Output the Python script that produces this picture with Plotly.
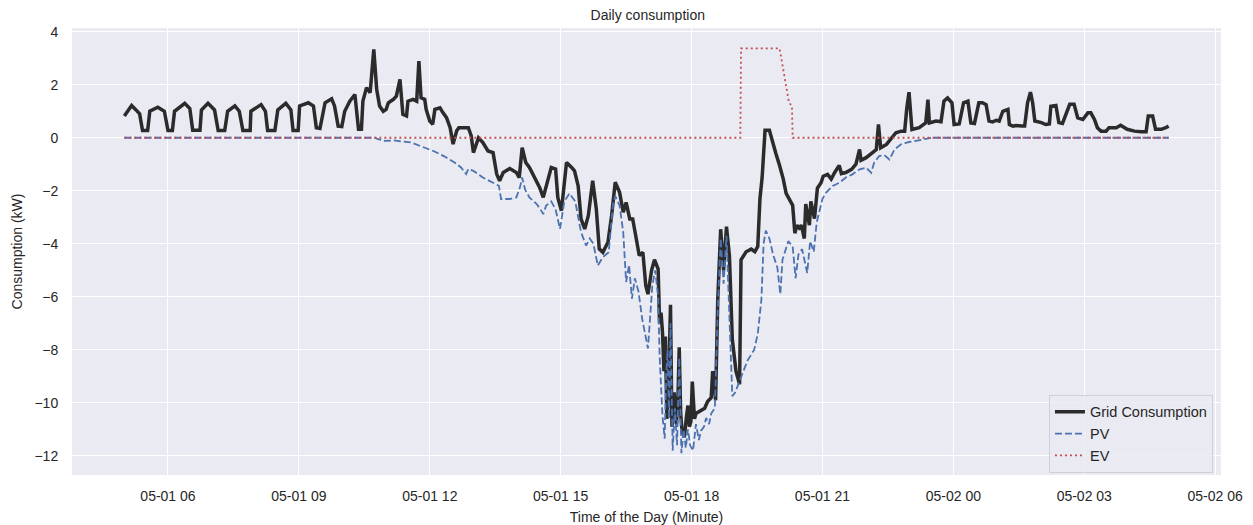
import pandas as pd
import plotly.graph_objects as go

# Grid consumption (kW) — sample times and values
grid_time = [
    "05:00", "05:10", "05:16", "05:21", "05:25", "05:32", "05:35", "05:46", "05:55", "06:00",
    "06:06", "06:09", "06:23", "06:30", "06:34", "06:44", "06:46", "06:55", "07:04", "07:09",
    "07:18", "07:22", "07:32", "07:38", "07:43", "07:53", "07:54", "08:08", "08:14", "08:17",
    "08:27", "08:31", "08:42", "08:49", "08:52", "08:59", "09:01", "09:13", "09:20", "09:24",
    "09:29", "09:36", "09:45", "09:49", "09:54", "09:59", "10:03", "10:10", "10:17", "10:22",
    "10:26", "10:28", "10:33", "10:38", "10:43", "10:47", "10:51", "10:56", "11:00", "11:03",
    "11:10", "11:14", "11:19", "11:21", "11:23", "11:28", "11:30", "11:37", "11:42", "11:45",
    "11:48", "11:53", "11:55", "12:00", "12:04", "12:07", "12:14", "12:18", "12:23", "12:28",
    "12:32", "12:37", "12:40", "12:46", "12:53", "12:57", "13:00", "13:07", "13:13", "13:20",
    "13:27", "13:32", "13:36", "13:41", "13:50", "13:59", "14:03", "14:07", "14:12", "14:17",
    "14:22", "14:27", "14:31", "14:36", "14:40", "14:47", "14:53", "14:56", "15:01", "15:08",
    "15:15", "15:19", "15:24", "15:28", "15:33", "15:38", "15:44", "15:49", "15:53", "15:58",
    "16:05", "16:10", "16:15", "16:21", "16:26", "16:30", "16:35", "16:39", "16:44", "16:48",
    "16:53", "16:57", "17:00", "17:05", "17:09",
    "17:14", "17:16", "17:18", "17:20", "17:22", "17:24", "17:26", "17:28", "17:30", "17:31",
    "17:33", "17:36", "17:39", "17:41", "17:43", "17:45", "17:47", "17:50", "17:53", "17:55",
    "17:57", "17:59", "18:01", "18:04", "18:06",
    "18:13", "18:18", "18:22", "18:27", "18:29", "18:33", "18:36", "18:40", "18:44", "18:48",
    "18:52", "18:56", "19:01", "19:06", "19:08", "19:15", "19:22", "19:27", "19:31", "19:34",
    "19:37", "19:39", "19:41", "19:47", "19:52", "19:56", "20:01", "20:06", "20:10", "20:14",
    "20:17", "20:19", "20:22", "20:25", "20:28", "20:31", "20:35", "20:37", "20:42", "20:44",
    "20:49", "20:53", "20:58", "21:01", "21:07", "21:12", "21:17", "21:23", "21:26", "21:32",
    "21:40", "21:46", "21:51", "21:53", "22:00", "22:09", "22:14", "22:17", "22:20", "22:28",
    "22:34", "22:41", "22:48", "22:53", "22:56", "22:59", "23:03", "23:13", "23:22", "23:25",
    "23:27", "23:36", "23:43", "23:47", "23:52", "23:58", "00:01", "00:08", "00:14", "00:20",
    "00:24", "00:29", "00:35", "00:40", "00:45", "00:49", "00:54", "00:59", "01:03", "01:08",
    "01:15", "01:17", "01:22", "01:26", "01:34", "01:38", "01:42", "01:46", "01:49", "01:52",
    "02:01", "02:07", "02:12", "02:14", "02:21", "02:25", "02:30", "02:40", "02:46", "02:51",
    "02:58", "03:05", "03:09", "03:14", "03:18", "03:23", "03:30", "03:34", "03:44", "03:50",
    "03:59", "04:09", "04:18", "04:25", "04:28", "04:34", "04:38", "04:46", "04:52", "04:56",
]
grid_kw = [
    0.82, 1.22, 1.05, 0.90, 0.27, 0.27, 1.00, 1.15, 1.00, 0.27,
    0.27, 1.00, 1.30, 1.10, 0.28, 0.28, 1.05, 1.30, 1.05, 0.27,
    0.27, 1.00, 1.20, 1.00, 0.27, 0.27, 1.00, 1.25, 1.00, 0.27,
    0.27, 1.05, 1.30, 1.05, 0.27, 0.27, 1.20, 1.32, 1.20, 0.38,
    0.35, 1.32, 1.47, 1.20, 0.44, 0.42, 1.00, 1.38, 1.63, 0.32,
    0.32, 1.38, 1.89, 1.70, 3.33, 1.82, 1.20, 1.00, 1.07, 1.32,
    1.45, 1.57, 2.20, 1.45, 0.88, 0.82, 1.38, 1.45, 1.38, 2.89,
    1.51, 1.45, 1.07, 0.63, 0.51, 1.07, 1.13, 0.95, 0.76, 0.38,
    -0.24, 0.26, 0.38, 0.38, 0.38, 0.07, -0.56, 0.00, -0.18, -0.50,
    -0.56, -1.37, -1.62, -1.31, -1.16, -1.31, -1.50, -0.37, -0.93, -1.12,
    -1.37, -1.68, -1.87, -2.25, -1.81, -1.12, -1.18, -2.25, -2.75, -0.93,
    -1.12, -1.25, -1.81, -3.06, -3.44, -2.94, -1.62, -2.69, -4.19, -4.32,
    -3.94, -2.94, -1.68, -2.06, -2.81, -2.44, -3.06, -3.06, -3.82, -4.44,
    -4.32, -5.57, -5.90, -5.00, -4.60,
    -4.95, -7.00, -6.60, -7.35, -8.80, -7.50, -10.60, -9.80, -6.80, -6.30,
    -10.90, -9.60, -10.80, -10.10, -7.90, -10.40, -11.10, -11.30, -10.50, -10.10,
    -10.90, -10.70, -9.20, -10.60, -10.40,
    -10.30, -10.20, -9.95, -9.80, -8.80, -9.90, -6.10, -3.45, -5.00, -3.35,
    -4.45, -7.60, -8.80, -9.30, -4.60, -4.30, -4.20, -4.30, -4.10, -2.30,
    -1.50, -0.40, 0.28, 0.28, -0.25, -0.60, -1.05, -1.55, -2.10, -2.30,
    -2.45, -2.55, -3.60, -3.30, -3.40, -3.30, -3.80, -2.50, -3.30, -2.40,
    -3.05, -1.90, -1.70, -1.45, -1.38, -1.56, -1.30, -1.04, -1.35, -1.31,
    -1.19, -1.00, -0.44, -0.85, -0.75, -0.56, -0.45, 0.50, -0.38, -0.25,
    -0.06, 0.19, 0.25, 0.25, 1.13, 1.72, 0.31, 0.38, 0.56, 1.44,
    0.56, 0.63, 0.60, 1.38, 1.50, 1.32, 0.50, 0.52, 1.32, 1.38,
    0.56, 0.54, 1.32, 1.32, 1.25, 0.63, 0.60, 0.66, 0.63, 1.00,
    1.07, 0.50, 0.44, 0.46, 0.44, 0.44, 1.32, 1.72, 1.32, 0.63,
    0.57, 0.50, 0.52, 1.19, 1.22, 0.57, 0.54, 1.26, 1.26, 0.75,
    0.69, 0.94, 0.94, 0.69, 0.38, 0.25, 0.25, 0.38, 0.38, 0.47,
    0.32, 0.25, 0.23, 0.23, 0.82, 0.82, 0.32, 0.32, 0.38, 0.44,
]

# PV generation (kW, negative = export)
pv_time = [
    "05:00", "10:44", "10:50", "10:58", "11:10", "11:19", "11:35", "11:46", "11:53", "12:05",
    "12:20", "12:34", "12:43", "12:50", "12:53", "13:00", "13:13", "13:27", "13:35", "13:38",
    "13:50", "13:59", "14:04", "14:07", "14:11", "14:17", "14:27", "14:32", "14:36", "14:40",
    "14:47", "14:53", "14:59", "15:05", "15:12", "15:20", "15:28", "15:35", "15:40", "15:45",
    "15:51", "15:58", "16:06", "16:12", "16:15", "16:21", "16:26", "16:30", "16:34", "16:38",
    "16:42", "16:47", "16:52", "17:00", "17:06", "17:10",
    "17:14", "17:16", "17:18", "17:20", "17:23", "17:25", "17:27", "17:29", "17:31", "17:34",
    "17:37", "17:40", "17:43", "17:46", "17:49", "17:52", "17:55", "17:58", "18:02", "18:06",
    "18:10", "18:13", "18:17", "18:20", "18:24", "18:27",
    "18:32", "18:36", "18:40", "18:44", "18:48", "18:52", "18:56", "19:00",
    "19:08", "19:17", "19:26", "19:31", "19:36", "19:39", "19:42", "19:47", "19:52", "19:58",
    "20:02", "20:05", "20:13", "20:19", "20:23", "20:27", "20:32", "20:39", "20:43", "20:48",
    "20:52", "20:56", "21:00", "21:05", "21:14", "21:23", "21:32", "21:41", "21:51", "22:00",
    "22:07", "22:11", "22:18", "22:25", "22:32", "22:39", "22:48", "22:59", "23:11", "23:22",
    "23:31", "04:56",
]
pv_kw = [
    0.00, 0.00, -0.06, -0.12, -0.10, -0.12, -0.18, -0.30, -0.37, -0.50,
    -0.70, -0.93, -1.12, -1.37, -1.18, -1.25, -1.50, -1.68, -1.81, -2.31,
    -2.31, -2.25, -1.87, -1.50, -1.95, -2.25, -2.50, -2.69, -2.88, -2.56,
    -2.40, -2.70, -3.44, -2.40, -2.10, -2.40, -3.56, -4.07, -3.80, -4.00,
    -4.82, -4.50, -4.32, -2.50, -2.20, -2.56, -3.56, -5.44, -4.80, -6.07,
    -5.30, -5.80, -6.82, -7.95, -5.57, -5.00,
    -6.00, -8.20, -9.20, -10.50, -11.35, -9.00, -8.00, -10.60, -7.00, -11.80,
    -10.20, -11.60, -8.30, -11.90, -11.00, -11.70, -11.00, -11.60, -11.80, -10.80,
    -11.40, -11.05, -10.90, -10.57, -10.80, -10.40,
    -10.20, -6.50, -3.80, -5.50, -3.70, -7.00, -9.75, -9.60,
    -9.00, -8.40, -8.00, -7.40, -6.10, -4.00, -3.50, -3.80, -4.40, -4.90,
    -5.90, -4.60, -3.90, -4.10, -5.30, -4.40, -4.20, -5.10, -3.90, -4.30,
    -3.20, -2.70, -2.30, -2.07, -1.82, -1.70, -1.50, -1.38, -1.19, -1.13,
    -1.32, -0.94, -0.69, -0.65, -0.82, -0.44, -0.25, -0.16, -0.10, -0.04,
    0.00, 0.00,
]

# EV charging (kW)
ev_time = ["05:00", "19:07", "19:08", "20:01", "20:14", "20:18", "20:19", "04:56"]
ev_kw = [0.00, 0.00, 3.37, 3.37, 1.32, 1.20, 0.00, 0.00]

assert len(grid_time) == len(grid_kw)
assert len(pv_time) == len(pv_kw)
assert len(ev_time) == len(ev_kw)

DAY_START = pd.Timestamp("2021-05-01 05:00")


def to_datetime(times):
    """Clock times from 05:00 onward; anything earlier belongs to the next day."""
    out = []
    for t in times:
        ts = pd.Timestamp(f"2021-05-01 {t}")
        if ts < DAY_START:
            ts += pd.Timedelta(days=1)
        out.append(ts)
    return out


FONT = "Liberation Sans, Arial, sans-serif"
TEXT = "#262626"

fig = go.Figure()
fig.add_trace(go.Scatter(
    x=to_datetime(grid_time), y=grid_kw, mode="lines", name="Grid Consumption",
    line=dict(color="#2b2b2b", width=3.5),
))
fig.add_trace(go.Scatter(
    x=to_datetime(pv_time), y=pv_kw, mode="lines", name="PV",
    line=dict(color="#4c72b0", width=1.8, dash="7px,3px"),
))
fig.add_trace(go.Scatter(
    x=to_datetime(ev_time), y=ev_kw, mode="lines", name="EV",
    line=dict(color="#c44e52", width=1.8, dash="2px,3px"),
))

fig.update_layout(
    width=1253, height=525,
    margin=dict(l=72, r=32, t=28, b=50),
    paper_bgcolor="white",
    plot_bgcolor="#eaeaf2",
    font=dict(family=FONT, size=14, color=TEXT),
    title=dict(text="Daily consumption", x=0.517, xanchor="center",
               y=0.971, yanchor="middle", yref="container",
               font=dict(size=14, color=TEXT)),
    showlegend=True,
    legend=dict(x=0.993, y=0.005, xanchor="right", yanchor="bottom",
                bgcolor="rgba(234,234,242,0.85)", bordercolor="#d0d0d8",
                borderwidth=1, font=dict(size=14.5, color=TEXT),
                tracegroupgap=0, itemwidth=30),
)

fig.update_xaxes(
    range=[pd.Timestamp("2021-05-01 03:48"), pd.Timestamp("2021-05-02 06:08")],
    tickformat="%m-%d %H", dtick=3 * 3600 * 1000, tick0="2021-05-01 06:00",
    showgrid=True, gridcolor="white", gridwidth=1.3,
    zeroline=False, showline=False, automargin=False,
    ticks="outside", ticklen=8, tickcolor="rgba(0,0,0,0)",
    tickfont=dict(size=14, color=TEXT),
    title=dict(text="Time of the Day (Minute)", standoff=13,
               font=dict(size=14, color=TEXT)),
)
fig.update_yaxes(
    range=[-12.72, 4.14], dtick=2, tick0=0,
    showgrid=True, gridcolor="white", gridwidth=1.3,
    zeroline=False, showline=False, automargin=False,
    ticks="outside", ticklen=10, tickcolor="rgba(0,0,0,0)",
    tickfont=dict(size=14, color=TEXT),
    title=dict(text="Consumption (kW)", standoff=8,
               font=dict(size=14, color=TEXT)),
)

fig.write_html("out.html")
